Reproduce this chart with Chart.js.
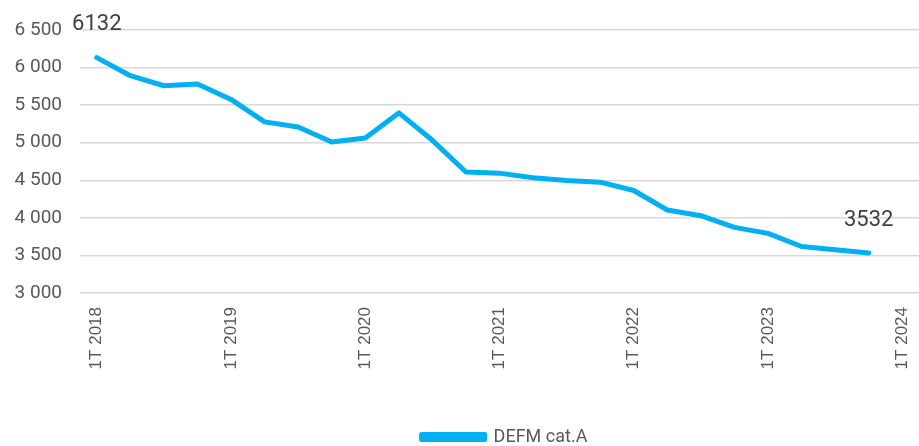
<!DOCTYPE html>
<html lang="fr">
<head>
    <meta charset="UTF-8">
    <title>DEFM cat.A</title>
    <style>
        body {
            margin: 0;
            background: #fff;
        }
        .wrap {
            width: 919px;
            height: 446px;
        }
    </style>
</head>
<body>
    <div class="wrap"><canvas id="myChart" width="919" height="446"></canvas></div>
</body>
<script src="https://cdn.jsdelivr.net/npm/chart.js@4.4.1/dist/chart.umd.min.js"></script>
<script>
// quarters 1T 2018 .. 1T 2024 (last one has no value yet)
const quarters = [
    '1T 2018', '2T 2018', '3T 2018', '4T 2018',
    '1T 2019', '2T 2019', '3T 2019', '4T 2019',
    '1T 2020', '2T 2020', '3T 2020', '4T 2020',
    '1T 2021', '2T 2021', '3T 2021', '4T 2021',
    '1T 2022', '2T 2022', '3T 2022', '4T 2022',
    '1T 2023', '2T 2023', '3T 2023', '4T 2023',
    '1T 2024'
];
const defmA = [
    6132, 5892, 5758, 5781,
    5576, 5277, 5210, 5010,
    5063, 5397, 5032, 4610,
    4595, 4533, 4497, 4475,
    4364, 4105, 4029, 3873,
    3793, 3619, 3575, 3532,
    null
];
const yTicks = [3000, 3500, 4000, 4500, 5000, 5500, 6000, 6500];
const shownLabels = ['1T 2018', '1T 2019', '1T 2020', '1T 2021', '1T 2022', '1T 2023', '1T 2024'];
const labelledPoints = [0, 23]; // value shown on first and last point

function fmt(v) {
    return String(v).replace(/\B(?=(\d{3})+(?!\d))/g, ' ');
}

// writes the value above the first and last point
const valueLabels = {
    id: 'valueLabels',
    afterLayout(chart) {
        // legend sits a bit right of centre and low in the original
        chart.legend.left += 45;
        chart.legend.right += 45;
        chart.legend.top += 10;
        chart.legend.bottom += 10;
    },
    afterDatasetsDraw(chart) {
        const ctx = chart.ctx;
        const meta = chart.getDatasetMeta(0);
        ctx.save();
        ctx.font = '22px Roboto';
        ctx.fillStyle = '#404040';
        ctx.textAlign = 'center';
        ctx.textBaseline = 'bottom';
        labelledPoints.forEach(i => {
            const pt = meta.data[i];
            ctx.fillText(String(defmA[i]), pt.x, pt.y - 22);
        });
        ctx.restore();
    }
};

var ctx = document.getElementById('myChart').getContext('2d');
var myChart = new Chart(ctx, {
    type: 'line',
    data: {
        labels: quarters,
        datasets: [{
            label: 'DEFM cat.A',
            data: defmA,
            borderColor: '#00B0F0',
            backgroundColor: '#00B0F0',
            borderWidth: 5,
            borderJoinStyle: 'round',
            borderCapStyle: 'round',
            pointRadius: 0,
            tension: 0
        }]
    },
    options: {
        responsive: false,
        animation: false,
        layout: {
            padding: { top: 30, right: 0, bottom: 0, left: 0 }
        },
        plugins: {
            legend: {
                position: 'bottom',
                labels: {
                    boxWidth: 63,
                    boxHeight: 5,
                    padding: 0,
                    color: '#595959',
                    font: { family: 'Roboto', size: 18 }
                }
            },
            tooltip: { enabled: false }
        },
        scales: {
            x: {
                offset: true,
                grid: { display: false },
                border: { display: false },
                afterFit: (scale) => {
                    scale.height = 125;
                    scale.paddingLeft = 0;
                    scale.paddingRight = 0;
                },
                ticks: {
                    autoSkip: false,
                    minRotation: 90,
                    maxRotation: 90,
                    padding: 6,
                    color: '#595959',
                    font: { family: 'Liberation Sans', size: 17 },
                    callback: function(val, index) {
                        const lab = this.getLabelForValue(val);
                        return shownLabels.includes(lab) ? lab : '';
                    }
                }
            },
            y: {
                min: yTicks[0],
                max: yTicks[yTicks.length - 1],
                afterFit: (scale) => {
                    scale.width = 80;
                    scale.paddingTop = 0;
                    scale.paddingBottom = 0;
                },
                afterBuildTicks: (scale) => { scale.ticks = yTicks.map(v => ({ value: v })); },
                border: { display: false },
                grid: {
                    color: '#d9d9d9',
                    lineWidth: 1.5,
                    drawTicks: false
                },
                ticks: {
                    padding: 18,
                    color: '#595959',
                    font: { family: 'Roboto', size: 19 },
                    callback: (v) => fmt(v)
                }
            }
        }
    },
    plugins: [valueLabels]
});
</script>
</html>
